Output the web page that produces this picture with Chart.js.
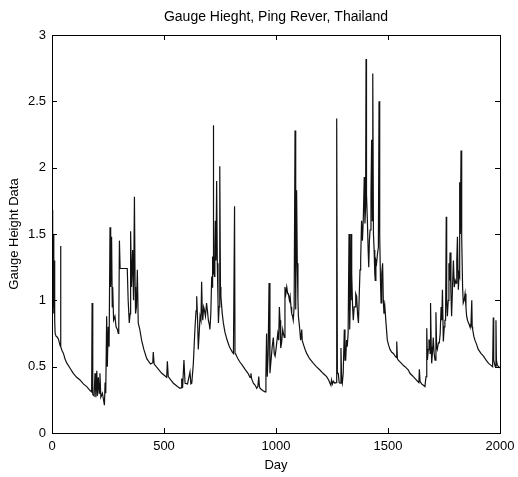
<!DOCTYPE html>
<html>
<head>
<meta charset="utf-8">
<script src="https://cdn.jsdelivr.net/npm/chart.js@4.4.1/dist/chart.umd.min.js"></script>
<style>
html,body{margin:0;padding:0;background:#fff;}
#wrap{width:518px;height:477px;position:relative;}
</style>
</head>
<body>
<div id="wrap"><canvas id="c" width="518" height="477"></canvas></div>
<script>
const titleText = "Gauge Hieght, Ping Rever, Thailand";
const xTitle = "Day";
const yTitle = "Gauge Height Data";
const xTicks = [0, 500, 1000, 1500, 2000];
const yTicks = [0, 0.5, 1, 1.5, 2, 2.5, 3];

const days = [
0,2,4,6,8,10,12,14,18,25,30,36,38,40,45,51,58,65,80,95,110,125,140,155,170,177,179,182,188,192,196,200,203,207,211,214,218,225,229,234,237,240,244,247,251,255,259,262,266,269,271,275,281,286,292,296,298,301,304,336,340,345,349,351,355,360,364,368,371,373,377,381,385,392,400,410,423,440,450,452,456,470,490,505,512,515,519,530,542,560,571,576,579,583,589,594,605,616,620,624,631,638,643,646,650,653,657,661,665,668,671,673,677,680,685,690,694,698,702,705,709,713,715,717,719,720,722,725,727,729,732,735,738,741,743,746,749,752,754,760,765,772,780,790,795,805,810,815,817,821,830,839,850,862,875,884,888,891,899,907,914,919,923,926,929,940,951,955,958,961,965,969,973,978,983,988,992,996,1000,1003,1008,1012,1015,1018,1021,1025,1030,1033,1037,1040,1044,1048,1052,1055,1060,1063,1067,1070,1074,1077,1081,1085,1087,1089,1092,1095,1098,1100,1105,1110,1115,1117,1122,1130,1137,1150,1167,1180,1196,1210,1226,1235,1241,1245,1248,1252,1256,1263,1268,1271,1274,1278,1282,1286,1290,1293,1296,1300,1305,1308,1311,1315,1318,1322,1326,1328,1330,1333,1335,1337,1339,1342,1345,1349,1353,1356,1360,1364,1368,1371,1375,1378,1382,1386,1390,1394,1397,1400,1402,1404,1408,1411,1414,1417,1420,1424,1427,1430,1432,1435,1438,1441,1443,1446,1449,1453,1457,1460,1462,1464,1467,1469,1472,1476,1479,1482,1486,1491,1497,1503,1509,1516,1524,1532,1537,1539,1542,1546,1557,1568,1576,1591,1598,1610,1621,1632,1638,1640,1643,1650,1658,1665,1668,1670,1673,1676,1680,1683,1685,1688,1690,1693,1695,1699,1702,1706,1710,1714,1717,1720,1725,1729,1733,1737,1740,1743,1747,1751,1754,1757,1760,1762,1765,1769,1772,1775,1777,1781,1784,1788,1792,1796,1800,1804,1807,1810,1814,1817,1819,1821,1823,1826,1828,1830,1833,1836,1840,1844,1848,1851,1855,1859,1862,1866,1870,1874,1876,1878,1883,1888,1895,1903,1915,1926,1938,1949,1960,1967,1970,1972,1975,1979,1982,1984,1988,1994,2000
];
const gauge = [
0.95,1.68,1.00,1.50,0.90,1.30,0.85,0.75,0.73,0.72,0.70,0.66,1.41,0.65,0.62,0.60,0.56,0.53,0.49,0.45,0.42,0.40,0.37,0.35,0.32,0.31,0.98,0.29,0.28,0.45,0.27,0.47,0.28,0.42,0.30,0.45,0.27,0.30,0.26,0.21,0.38,0.30,0.88,0.50,0.80,0.65,1.55,1.10,1.48,0.95,1.10,0.85,0.88,0.80,0.78,0.75,0.78,1.45,1.24,1.24,1.00,0.83,0.90,1.52,1.10,1.38,1.00,1.78,1.10,0.90,0.95,1.23,0.83,0.78,0.70,0.63,0.56,0.52,0.53,0.61,0.52,0.49,0.45,0.43,0.42,0.54,0.425,0.40,0.375,0.35,0.337,0.34,0.41,0.34,0.55,0.375,0.37,0.46,0.37,0.375,0.525,0.78,0.92,1.03,0.85,0.63,0.75,0.88,0.85,1.14,0.90,0.85,0.95,0.93,0.88,0.98,0.92,0.85,0.82,0.78,0.90,1.18,1.10,1.33,1.20,2.32,1.35,1.18,1.40,1.60,1.30,1.90,1.28,1.00,0.83,0.95,2.01,1.10,1.03,0.90,0.83,0.76,0.71,0.66,0.64,0.61,0.60,1.71,0.60,0.59,0.56,0.535,0.51,0.48,0.45,0.42,0.45,0.41,0.375,0.36,0.337,0.35,0.425,0.35,0.337,0.32,0.31,0.45,0.75,0.425,0.60,1.13,0.45,0.55,0.65,0.72,0.60,0.58,0.63,0.63,0.75,0.70,0.95,0.85,0.64,0.68,0.78,0.75,0.72,1.10,1.05,1.10,1.05,1.05,1.00,1.03,0.95,0.90,0.88,0.85,0.95,2.28,1.20,0.93,1.83,1.28,1.00,0.88,0.80,0.70,0.78,0.70,0.67,0.63,0.60,0.56,0.525,0.50,0.475,0.45,0.425,0.40,0.375,0.36,0.40,0.37,0.39,0.375,0.38,2.37,0.45,0.45,0.38,0.375,0.64,0.40,0.375,0.45,0.78,0.55,0.55,0.70,0.65,0.75,1.50,0.85,0.78,1.10,1.50,1.00,1.20,0.95,0.85,0.95,0.95,1.05,1.03,0.90,0.83,1.00,1.23,1.30,1.60,1.45,1.63,1.93,1.58,1.70,2.82,1.80,1.60,1.40,1.25,1.45,1.53,1.80,2.21,1.60,2.71,1.50,1.38,1.20,1.15,1.30,1.28,1.35,1.40,2.50,1.55,1.48,1.10,0.98,1.20,1.28,1.00,0.90,0.95,0.83,0.70,0.66,0.63,0.61,0.60,0.58,0.57,0.69,0.56,0.55,0.53,0.51,0.50,0.475,0.45,0.43,0.41,0.39,0.38,0.48,0.39,0.37,0.36,0.35,0.40,0.425,0.79,0.55,0.63,0.70,0.70,0.60,0.98,0.65,0.525,0.62,0.72,0.60,0.55,0.91,0.65,0.63,0.68,0.68,0.75,0.95,0.85,1.08,0.69,0.80,0.85,0.85,1.63,1.00,0.88,1.00,1.28,1.15,1.36,1.05,0.88,1.10,1.30,1.10,1.15,1.13,1.30,1.48,1.08,1.20,1.18,1.89,1.50,2.13,1.60,1.48,1.10,0.98,1.00,1.05,0.95,0.88,0.85,0.83,0.82,0.80,0.80,1.00,0.80,0.78,0.73,0.70,0.67,0.63,0.60,0.58,0.55,0.525,0.51,0.50,0.87,0.55,0.525,0.50,0.85,0.55,0.51,0.50,0.49
];

const points = days.map((d, i) => ({x: d, y: gauge[i]}));

const FONT = "'Liberation Sans', Arial, sans-serif";

const frameTicks = {
  id: 'frameTicks',
  afterDraw(chart) {
    const ctx = chart.ctx;
    const a = chart.chartArea;
    const xs = chart.scales.x, ys = chart.scales.y;
    const L = 5;
    ctx.save();
    ctx.strokeStyle = '#000';
    ctx.lineWidth = 1;
    ctx.strokeRect(Math.round(a.left) + 0.5, Math.round(a.top) + 0.5,
                   Math.round(a.right - a.left), Math.round(a.bottom - a.top));
    ctx.beginPath();
    xTicks.forEach(v => {
      const px = Math.round(xs.getPixelForValue(v)) + 0.5;
      ctx.moveTo(px, a.bottom); ctx.lineTo(px, a.bottom - L);
      ctx.moveTo(px, a.top); ctx.lineTo(px, a.top + L);
    });
    yTicks.forEach(v => {
      const py = Math.round(ys.getPixelForValue(v)) + 0.5;
      ctx.moveTo(a.left, py); ctx.lineTo(a.left + L, py);
      ctx.moveTo(a.right, py); ctx.lineTo(a.right - L, py);
    });
    ctx.stroke();
    ctx.restore();
  }
};

new Chart(document.getElementById('c'), {
  type: 'line',
  data: {
    datasets: [{
      data: points,
      borderColor: '#111',
      borderWidth: 1.2,
      pointRadius: 0,
      tension: 0,
      fill: false
    }]
  },
  options: {
    responsive: false,
    animation: false,
    layout: { padding: { left: 0, right: 18, top: 0, bottom: 0 } },
    plugins: {
      legend: { display: false },
      tooltip: { enabled: false },
      title: {
        display: true,
        fullSize: false,
        text: titleText,
        color: '#000',
        font: { family: FONT, size: 14, weight: 'normal' },
        padding: { top: 9, bottom: 9.2 }
      }
    },
    scales: {
      x: {
        type: 'linear',
        min: 0, max: 2000,
        afterBuildTicks(s) { s.ticks = xTicks.map(v => ({value: v})); },
        afterFit(s) { s.height = 44; s.paddingRight = 8; s.paddingLeft = 0; },
        grid: { display: false, drawTicks: false },
        border: { display: false },
        ticks: {
          color: '#000',
          padding: 6,
          maxRotation: 0,
          autoSkip: false,
          font: { family: FONT, size: 13 },
          callback: v => String(v)
        },
        title: {
          display: true, text: xTitle, color: '#000',
          font: { family: FONT, size: 13 },
          padding: { top: 0, bottom: 4 }
        }
      },
      y: {
        type: 'linear',
        min: 0, max: 3,
        afterBuildTicks(s) { s.ticks = yTicks.map(v => ({value: v})); },
        afterFit(s) { s.width = 52; },
        grid: { display: false, drawTicks: false },
        border: { display: false },
        ticks: {
          color: '#000',
          padding: 6,
          autoSkip: false,
          font: { family: FONT, size: 13 },
          callback: v => String(v)
        },
        title: {
          display: true, text: yTitle, color: '#000',
          font: { family: FONT, size: 13 },
          padding: { top: 7, bottom: 0 }
        }
      }
    }
  },
  plugins: [frameTicks]
});
</script>
</body>
</html>
